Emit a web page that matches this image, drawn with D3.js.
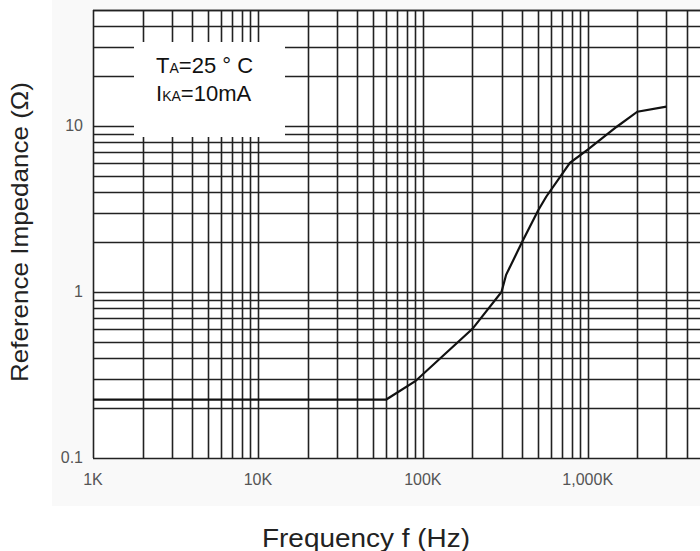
<!DOCTYPE html>
<html>
<head>
<meta charset="utf-8">
<script src="https://cdn.jsdelivr.net/npm/d3@7"></script>
<style>
  body { margin: 0; background: #fff; }
  svg { display: block; font-family: "Liberation Sans", Arial, sans-serif; }
</style>
</head>
<body>
<svg id="chart" width="700" height="551"></svg>
<script>
// curve (frequency in Hz, impedance in ohm)
var freqs = [1e3, 60e3, 90e3, 200e3, 300e3, 320e3, 400e3, 500e3, 560e3, 780e3, 1000e3, 1500e3, 2000e3, 3000e3];
var impedance = [0.225, 0.225, 0.29, 0.6, 1.0, 1.27, 2.0, 3.1, 3.75, 6.0, 7.2, 9.9, 12.2, 13.1];

// tick labels
var xTicks = [1e3, 1e4, 1e5, 1e6];
var xTickLabels = ["1K", "10K", "100K", "1,000K"];
var yTicks = [0.1, 1, 10];
var yTickLabels = ["0.1", "1", "10"];

// decades used for the grid
var xDecades = [1e3, 1e4, 1e5, 1e6];
var yDecades = [0.1, 1, 10];

var xGrid = [];
xDecades.forEach(function (d) {
  for (var m = 1; m <= 9; m++) xGrid.push(d * m);
});
xGrid.push(5e6);
var yGrid = [];
yDecades.forEach(function (d) {
  for (var m = 1; m <= 9; m++) if (d * m <= 50) yGrid.push(d * m);
});

var svg = d3.select("#chart");
var plotLeft = 93, plotTop = 10, plotBottom = 458;

var x = d3.scaleLog().domain([1e3, 5e6]).range([plotLeft, 703]);
var y = d3.scaleLog().domain([0.1, 50]).range([plotBottom, plotTop]);

// faint scan background
svg.append("rect")
  .attr("x", 52).attr("y", 0)
  .attr("width", 648).attr("height", 506)
  .attr("fill", "#f9f9f9");

svg.append("rect")
  .attr("x", plotLeft).attr("y", plotTop)
  .attr("width", 700 - plotLeft).attr("height", plotBottom - plotTop)
  .attr("fill", "#fff");

// grid
var grid = svg.append("g")
  .attr("stroke", "#222")
  .attr("stroke-width", 1.6);

grid.selectAll(".v")
  .data(xGrid)
  .enter()
  .append("line")
  .attr("x1", function (d) { return Math.round(x(d)) + 0.5; })
  .attr("x2", function (d) { return Math.round(x(d)) + 0.5; })
  .attr("y1", plotTop)
  .attr("y2", plotBottom);

grid.selectAll(".h")
  .data(yGrid.concat([50]))
  .enter()
  .append("line")
  .attr("x1", plotLeft)
  .attr("x2", 700)
  .attr("y1", function (d) { return Math.round(y(d)) + 0.5; })
  .attr("y2", function (d) { return Math.round(y(d)) + 0.5; });

// white box behind the condition text
svg.append("rect")
  .attr("x", 134).attr("y", 42)
  .attr("width", 151).attr("height", 95)
  .attr("fill", "#fff");

var note = svg.append("g").attr("fill", "#111");
var t1 = note.append("text").attr("x", 156).attr("y", 73).style("font-size", "22px");
t1.append("tspan").text("T");
t1.append("tspan").style("font-size", "14px").text("A");
t1.append("tspan").text("=25 \u00b0 C");
var t2 = note.append("text").attr("x", 156).attr("y", 101).style("font-size", "22px");
t2.append("tspan").text("I");
t2.append("tspan").style("font-size", "14px").text("KA");
t2.append("tspan").text("=10mA");

// curve
var line = d3.line()
  .x(function (d, i) { return x(freqs[i]); })
  .y(function (d) { return y(d); });

svg.append("path")
  .datum(impedance)
  .attr("d", line)
  .attr("fill", "none")
  .attr("stroke", "#111")
  .attr("stroke-width", 2.2);

// tick labels
svg.selectAll(".xt")
  .data(xTicks)
  .enter()
  .append("text")
  .attr("x", function (d) { return x(d); })
  .attr("y", 485)
  .attr("text-anchor", "middle")
  .attr("fill", "#555")
  .style("font-size", "16px")
  .text(function (d, i) { return xTickLabels[i]; });

svg.selectAll(".yt")
  .data(yTicks)
  .enter()
  .append("text")
  .attr("x", 83)
  .attr("y", function (d) { return y(d) + 5; })
  .attr("text-anchor", "end")
  .attr("fill", "#555")
  .style("font-size", "16px")
  .text(function (d, i) { return yTickLabels[i]; });

// axis titles
svg.append("text")
  .attr("transform", "translate(28, 232) rotate(-90)")
  .attr("text-anchor", "middle")
  .attr("fill", "#222")
  .attr("textLength", 300)
  .attr("lengthAdjust", "spacingAndGlyphs")
  .style("font-size", "24px")
  .text("Reference Impedance (\u03a9)");

svg.append("text")
  .attr("x", 366)
  .attr("y", 547)
  .attr("text-anchor", "middle")
  .attr("fill", "#222")
  .attr("textLength", 208)
  .attr("lengthAdjust", "spacingAndGlyphs")
  .style("font-size", "25px")
  .text("Frequency f (Hz)");
</script>
</body>
</html>
